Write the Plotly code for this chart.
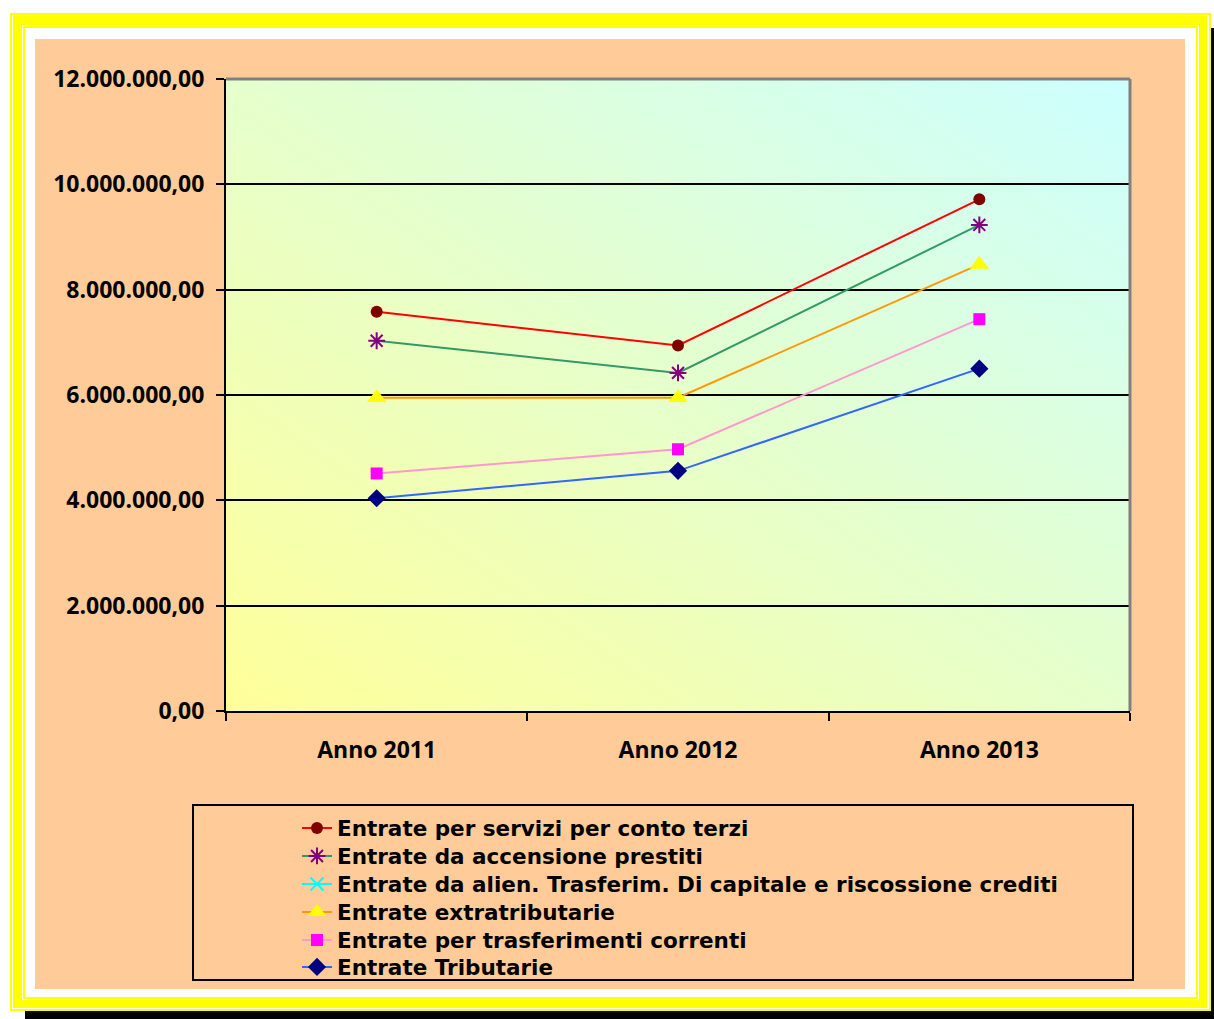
import base64
import numpy as np
import plotly.graph_objects as go

# Categories and series (stacked components, in euro)
anni = ["Anno 2011", "Anno 2012", "Anno 2013"]
tributarie = [4040000, 4560000, 6500000]
trasferimenti_correnti = [470000, 410000, 940000]
extratributarie = [1440000, 980000, 1040000]
alienazioni = [None, None, None]
accensione_prestiti = [1080000, 470000, 750000]
servizi_conto_terzi = [550000, 520000, 485000]

y_ticks = [0, 2000000, 4000000, 6000000, 8000000, 10000000, 12000000]

# Stacked (cumulative) totals as drawn by a stacked line chart
c1 = np.array(tributarie, dtype=float)
c2 = c1 + np.array(trasferimenti_correnti, dtype=float)
c3 = c2 + np.array(extratributarie, dtype=float)
c5 = c3 + np.array(accensione_prestiti, dtype=float)
c6 = c5 + np.array(servizi_conto_terzi, dtype=float)

W, H = 1214, 1019
L, R, T, B = 226, 84, 79, 308
PW, PH = W - L - R, H - T - B


def px(x):
    return (x - L) / PW


def py(y):
    return (H - B - y) / PH


fig = go.Figure()

# name, values, line colour, marker colour, symbol, size, legend id, legend row y
series = [
    ("Entrate Tributarie", c1, "#3366FF", "#000080", "diamond", 14, "legend6", 967),
    ("Entrate per trasferimenti correnti", c2, "#FF99CC", "#FF00FF", "square", 12, "legend5", 940),
    ("Entrate da alien. Trasferim. Di capitale e riscossione crediti",
     alienazioni, "#00FFFF", "#00FFFF", "x-thin-open", 13, "legend3", 884),
    ("Entrate extratributarie", c3, "#FF9900", "#FFFF00", "triangle-up", 17, "legend4", 912),
    ("Entrate da accensione prestiti", c5, "#339966", "#800080", "asterisk-open", 14, "legend2", 856),
    ("Entrate per servizi per conto terzi", c6, "#FF0000", "#800000", "circle", 12, "legend", 828),
]

legend_font = dict(family="DejaVu Sans", size=21.5, color="#000000", weight="bold")
legends = {}
for name, vals, lc, mc, sym, size, leg, row_y in series:
    open_sym = sym.endswith("open")
    fig.add_trace(go.Scatter(
        x=anni, y=list(vals), name=name, mode="lines+markers",
        line=dict(color=lc, width=2),
        marker=dict(symbol=sym, size=size, color=mc,
                    line=dict(color=mc, width=2 if open_sym else 0)),
        legend=leg,
    ))
    legends[leg] = dict(
        x=px(297), y=py(row_y), xanchor="left", yanchor="middle",
        bgcolor="rgba(0,0,0,0)", borderwidth=0, font=legend_font,
        itemwidth=30,
    )

# Diagonal yellow-to-cyan fill of the plotting area
svg = ('<svg xmlns="http://www.w3.org/2000/svg" width="100" height="100" '
       'viewBox="0 0 100 100" preserveAspectRatio="none">'
       '<defs><linearGradient id="g" x1="0" y1="1" x2="1" y2="0">'
       '<stop offset="0" stop-color="#FFFF99"/>'
       '<stop offset="1" stop-color="#CCFFFF"/></linearGradient></defs>'
       '<rect width="100" height="100" fill="url(#g)"/></svg>')
src = "data:image/svg+xml;base64," + base64.b64encode(svg.encode()).decode()
fig.add_layout_image(dict(source=src, xref="x domain", yref="y domain",
                          x=0, y=1, sizex=1, sizey=1, sizing="stretch",
                          xanchor="left", yanchor="top", layer="below"))

# Decorative frame: shadow, triple yellow border, peach chart area
frame = [
    ((25, 28, 1230, 1030), "#000000"),
    ((10, 13, 1211, 1011), "#FFFF00"),
    ((12, 15, 1209, 1009), "#FFFFFF"),
    ((13, 16, 1207, 1008), "#FFFF00"),
    ((22, 25, 1199, 1000), "#FFFFFF"),
    ((23, 26, 1198, 999), "#FFFF00"),
    ((25, 28, 1196, 997), "#FFFFFF"),
    ((35, 39, 1185, 989), "#FFCC99"),
]
for (x0, y0, x1, y1), col in frame:
    fig.add_shape(type="rect", xref="paper", yref="paper",
                  x0=px(x0), x1=px(x1), y0=py(y1), y1=py(y0),
                  fillcolor=col, line=dict(width=0), layer="below")

# Legend box
fig.add_shape(type="rect", xref="paper", yref="paper",
              x0=px(193), x1=px(1133), y0=py(980), y1=py(805),
              fillcolor="#FFCC99", line=dict(color="#000000", width=2), layer="below")

# Grey top/right edge of the plotting area
fig.add_shape(type="line", xref="paper", yref="paper", x0=0, x1=1, y0=1, y1=1,
              line=dict(color="#808080", width=3), layer="above")
fig.add_shape(type="line", xref="paper", yref="paper", x0=1, x1=1, y0=0, y1=1,
              line=dict(color="#808080", width=3), layer="above")

tick_font = dict(family="Open Sans", size=23, color="#000000", weight="bold")

fig.update_layout(
    width=W, height=H,
    margin=dict(l=L, r=R, t=T, b=B, pad=0, autoexpand=False),
    paper_bgcolor="#FFFFFF",
    plot_bgcolor="rgba(0,0,0,0)",
    separators=",.",
    showlegend=True,
    xaxis=dict(
        type="category", range=[-0.5, 2.5], tickson="boundaries",
        ticks="outside", ticklen=8, tickwidth=2, tickcolor="#000000",
        showline=True, linecolor="#000000", linewidth=2,
        showgrid=False, tickfont=tick_font, ticklabelstandoff=17,
        fixedrange=True, automargin=False,
    ),
    yaxis=dict(
        range=[0, 12000000], tickvals=y_ticks, tickformat=",.2f",
        ticks="outside", ticklen=8, tickwidth=2, tickcolor="#000000",
        showline=True, linecolor="#000000", linewidth=2,
        showgrid=True, gridcolor="#000000", gridwidth=2,
        zeroline=False, tickfont=tick_font, ticklabelstandoff=7,
        fixedrange=True, automargin=False,
    ),
    **legends,
)

fig.write_html("out.html")
